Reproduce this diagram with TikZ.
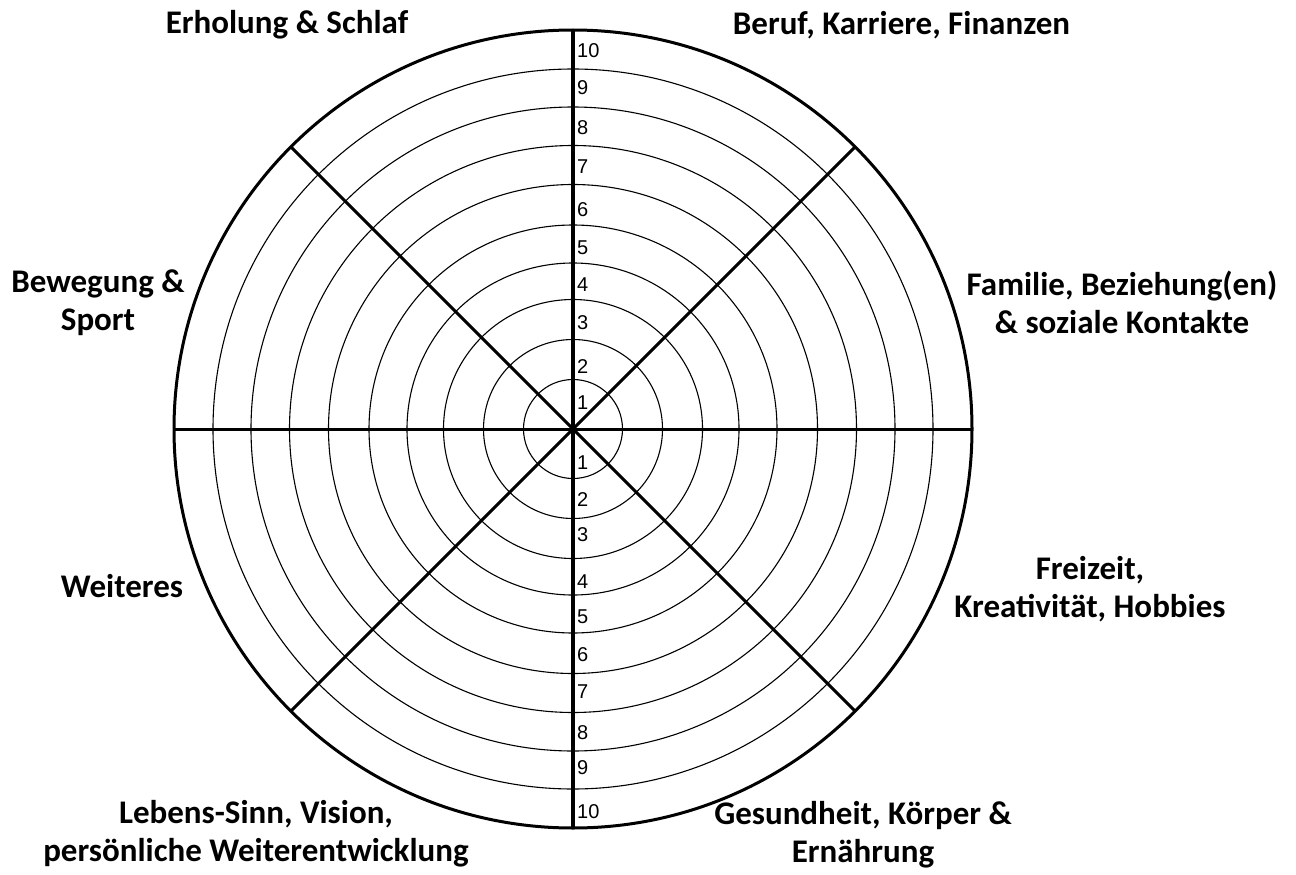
\documentclass[tikz,border=0pt]{standalone}
\usepackage{fontspec}
\usetikzlibrary{calc}
\setmainfont{Carlito}
\newfontfamily\numfont{Liberation Sans}
\begin{document}
\begin{tikzpicture}[x=1pt,y=-1pt,
  ring/.style={line width=1.1pt},
  outer/.style={line width=3pt},
  axisv/.style={line width=4pt},
  axis/.style={line width=3pt},
  title/.style={font=\fontsize{33}{38}\selectfont\bfseries, align=center, anchor=base, inner sep=0pt},
  num/.style={font=\numfont\fontsize{20}{22}\selectfont, anchor=west, inner sep=0pt}]
\useasboundingbox (0,0) rectangle (1296,875);
\coordinate (c) at (573,429);
% rings
\foreach \r in {49.5,89.5,129.5,166,204,244.5,283.5,322,360}
  \draw[ring] (c) circle[radius=\r];
\draw[outer] (c) circle[radius=399];
% spokes
\coordinate (t) at ($(c)+(0,-399)$);
\coordinate (b) at ($(c)+(0,399)$);
\coordinate (l) at ($(c)+(-399,0)$);
\coordinate (r) at ($(c)+(399,0)$);
\coordinate (ur) at ($(c)+(45:399)$);
\coordinate (ul) at ($(c)+(135:399)$);
\coordinate (ll) at ($(c)+(225:399)$);
\coordinate (lr) at ($(c)+(315:399)$);
\draw[axis] (l) -- (r);
\draw[axis] (ur) -- (ll);
\draw[axis] (ul) -- (lr);
\draw[axisv] (t) -- (b);
% numbers top
\foreach \n/\y in {10/51,9/88,8/128,7/167,6/210,5/248,4/285,3/323,2/367,1/403}
  \node[num] (nt\n) at (577,\y) {\n};
% numbers bottom
\foreach \n/\y in {1/463,2/500,3/535,4/582,5/617,6/655,7/692,8/733,9/768,10/812}
  \node[num] (nb\n) at (577,\y) {\n};
% titles (base anchor = baseline of last line)
\node[title] (erh) at (287,34) {Erholung \& Schlaf};
\node[title] (ber) at (901.5,35) {Beruf, Karriere, Finanzen};
\node[title] (bew) at (98,330) {Bewegung \&\\Sport};
\node[title] (fam) at (1122,333) {Familie, Beziehung(en)\\\& soziale Kontakte};
\node[title] (fre) at (1090,617) {Freizeit,\\Kreativität, Hobbies};
\node[title] (wei) at (122,597) {Weiteres};
\node[title] (leb) at (256,861) {Lebens-Sinn, Vision,\\persönliche Weiterentwicklung};
\node[title] (ges) at (863,862) {Gesundheit, Körper \&\\Ernährung};
\end{tikzpicture}
\end{document}
